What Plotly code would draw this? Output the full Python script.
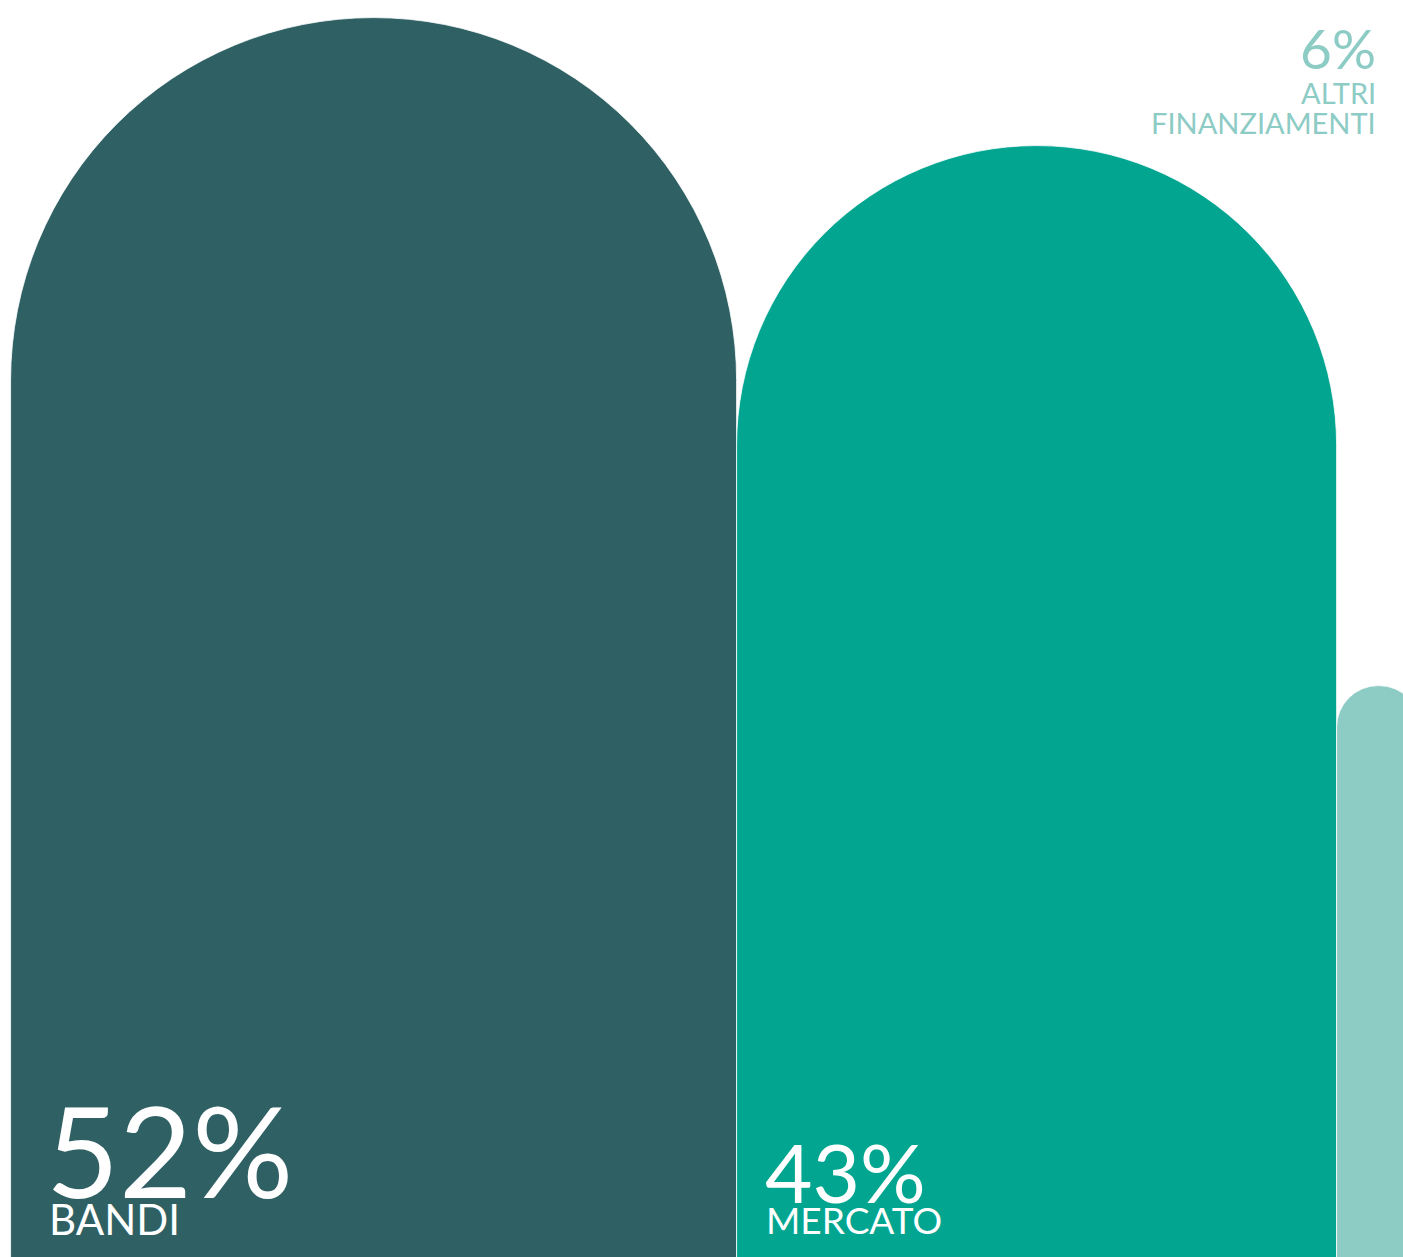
import plotly.graph_objects as go

# Data
categories = ["BANDI", "MERCATO", "ALTRI<br>FINANZIAMENTI"]
shares = [52, 43, 6]                 # percent -> bar widths
heights = [98.6, 88.4, 45.5]         # bar heights (0-100 scale)
colors = ["#2F6064", "#02A690", "#8DCBC5"]
pct_labels = [f"{v}%" for v in shares]

# cumulative positions (marimekko-like)
lefts = []
acc = 0
for s in shares:
    lefts.append(acc)
    acc += s
centers = [l + s / 2 for l, s in zip(lefts, shares)]

fig = go.Figure()
fig.add_trace(go.Bar(
    x=centers, y=heights, width=shares,
    marker=dict(color=colors, cornerradius="50%", line=dict(color="white", width=0.8)),
    hoverinfo="skip", showlegend=False,
))

W, H = 1403, 1257
FONT = "Lato"

def px(x):
    return x / W

def py(y):
    return 1 - y / H

def ann(text, x, y, size, color, xanchor="left"):
    fig.add_annotation(text=text, x=px(x), y=py(y), xref="paper", yref="paper",
                       xanchor=xanchor, yanchor="middle", showarrow=False,
                       font=dict(family=FONT, size=size, color=color),
                       align=xanchor)

ann(pct_labels[0], 44, 1149, 126, "white")
ann(categories[0], 47, 1219, 42, "white")
ann(pct_labels[1], 763, 1171, 82, "white")
ann(categories[1], 764, 1219, 37, "white")
ann(pct_labels[2], 1378, 48.5, 55, colors[2], xanchor="right")
ann("ALTRI", 1378, 92.5, 29, colors[2], xanchor="right")
ann("FINANZIAMENTI", 1378, 122.5, 29, colors[2], xanchor="right")

px_per_unit = (1337 - 11) / 95.0
x0 = -11 / px_per_unit
x1 = (W - 11) / px_per_unit

fig.update_layout(
    width=W, height=H,
    margin=dict(l=0, r=0, t=0, b=0),
    paper_bgcolor="white", plot_bgcolor="white",
    bargap=0,
    xaxis=dict(range=[x0, x1], visible=False, fixedrange=True),
    yaxis=dict(range=[0.15, 100], visible=False, fixedrange=True),
)

fig.write_html("out.html", config={"displayModeBar": False},
               post_script="document.body.style.margin='0';document.body.style.overflow='hidden';")
